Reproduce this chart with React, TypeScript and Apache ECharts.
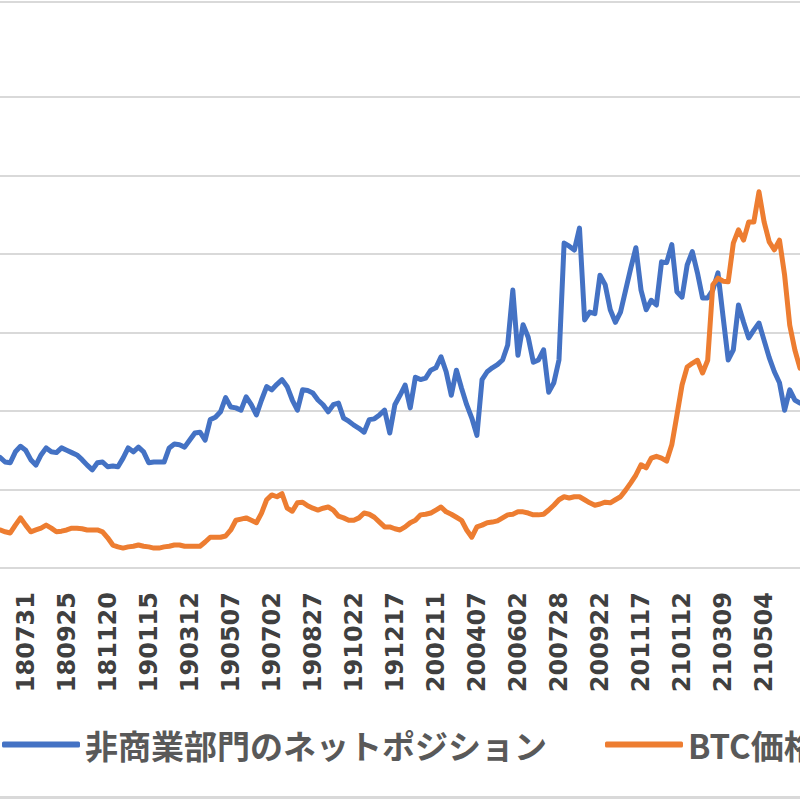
import React, { useEffect, useRef } from "react";
import * as echarts from "echarts";

// Weekly COT report dates (Tuesdays), starting 2018-06-26
const START_UTC = Date.UTC(2018, 5, 26);
const WEEK_COUNT = 157;
const weekDates: string[] = [];
for (let i = 0; i < WEEK_COUNT; i++) {
  const d = new Date(START_UTC + i * 7 * 86400000);
  const yy = String(d.getUTCFullYear() % 100).padStart(2, "0");
  const mm = String(d.getUTCMonth() + 1).padStart(2, "0");
  const dd = String(d.getUTCDate()).padStart(2, "0");
  weekDates.push(yy + mm + dd);
}

const legendNames = ["非商業部門のネットポジション", "BTC価格"];

// Non-commercial net position (left axis, labels cropped in the reference)
const netPosition = [
  1410, 1350, 1340, 1480, 1550, 1500, 1380, 1310, 1440, 1530,
  1480, 1470, 1530, 1500, 1470, 1440, 1380, 1310, 1250, 1340,
  1350, 1290, 1300, 1290, 1400, 1530, 1480, 1540, 1480, 1340,
  1350, 1350, 1350, 1530, 1580, 1570, 1540, 1630, 1720, 1730,
  1630, 1890, 1920, 1990, 2170, 2050, 2040, 2010, 2180, 2080,
  1950, 2140, 2310, 2270, 2340, 2400, 2310, 2140, 2010, 2270,
  2260, 2230, 2140, 2080, 1990, 2080, 2100, 1910, 1870, 1820,
  1780, 1730, 1890, 1900, 1950, 2010, 1720, 2080, 2200, 2330,
  2040, 2430, 2400, 2420, 2520, 2550, 2690, 2500, 2200, 2520,
  2290, 2080, 1910, 1690, 2400, 2500, 2550, 2590, 2650, 2840,
  3540, 2710, 3100, 2940, 2620, 2650, 2780, 2240, 2360, 2650,
  4140, 4100, 4050, 4330, 3160, 3260, 3240, 3730, 3610, 3290,
  3130, 3260, 3540, 3820, 4080, 3540, 3290, 3410, 3350, 3900,
  3890, 4120, 3520, 3450, 3860, 4030, 3760, 3440, 3440, 3540,
  3760, 3200, 2650, 2780, 3350, 3130, 2930, 3030, 3120, 2900,
  2680, 2500, 2360, 2010, 2270, 2140, 2100,
];

// BTC price in USD (right axis, labels cropped in the reference)
const btcPrice = [
  6300, 6000, 5800, 7100, 8300, 7100, 6000, 6300, 6600, 7100,
  6600, 6000, 6100, 6300, 6600, 6600, 6500, 6300, 6300, 6300,
  6000, 5000, 3800, 3500, 3300, 3500, 3600, 3800, 3600, 3500,
  3300, 3300, 3500, 3600, 3800, 3800, 3600, 3600, 3600, 3600,
  4300, 5100, 5100, 5100, 5300, 6300, 7900, 8100, 8300, 7900,
  7500, 9100, 11300, 12100, 11800, 12300, 9900, 9400, 10800, 10900,
  10300, 9900, 9600, 9900, 10100, 9600, 8600, 8300, 7900, 7900,
  8300, 9100, 8900, 8400, 7600, 6800, 6800, 6500, 6300, 6800,
  7500, 7900, 8800, 8900, 9100, 9600, 10100, 9300, 8900, 8400,
  7900, 6300, 5100, 6800, 7100, 7500, 7600, 7800, 8300, 8800,
  8900, 9300, 9300, 9100, 8800, 8800, 8900, 9600, 10400, 11300,
  11800, 11600, 11800, 11800, 11300, 10800, 10400, 10600, 10900, 10800,
  11300, 11800, 12900, 14100, 15400, 17100, 16600, 18200, 18500, 18200,
  17700, 20400, 25300, 30300, 33300, 33900, 34400, 32300, 34400, 46900,
  48000, 47500, 47400, 53800, 56000, 54300, 57300, 57300, 62300, 57300,
  54000, 52700, 54300, 48500, 40200, 36100, 33100,
];

const FIRST_LABEL_INDEX = 5;
const LABEL_STEP = 8;

export default function App() {
  const ref = useRef<HTMLDivElement>(null);

  useEffect(() => {
    if (!ref.current) return;
    const chart = echarts.init(ref.current, null, { renderer: "svg" });
    chart.setOption({
      animation: false,
      backgroundColor: "#ffffff",
      grid: { left: 0, right: 0, top: 97, bottom: 232, containLabel: false },
      legend: {
        data: legendNames,
        left: 2,
        top: 728,
        width: 2000,
        padding: 0,
        itemGap: 58,
        itemWidth: 78,
        itemHeight: 6,
        icon: "roundRect",
        textStyle: {
          fontFamily: "Noto Sans CJK JP",
          fontSize: 33,
          fontWeight: "bold",
          color: "#595959",
        },
      },
      graphic: [
        { type: "rect", shape: { x: 0, y: 1, width: 800, height: 2 }, style: { fill: "#d9d9d9" } },
        { type: "rect", shape: { x: 0, y: 796, width: 800, height: 3 }, style: { fill: "#d9d9d9" } },
      ],
      xAxis: {
        type: "category",
        data: weekDates,
        boundaryGap: false,
        axisLine: { show: false },
        axisTick: { show: false },
        axisLabel: {
          rotate: 90,
          margin: 24,
          interval: (index: number) =>
            index >= FIRST_LABEL_INDEX && (index - FIRST_LABEL_INDEX) % LABEL_STEP === 0,
          fontFamily: "DejaVu Sans",
          fontWeight: "bold",
          fontSize: 24,
          color: "#404040",
        },
      },
      yAxis: [
        {
          type: "value",
          min: 0,
          max: 6000,
          interval: 1000,
          axisLabel: { show: false },
          axisLine: { show: false },
          axisTick: { show: false },
          splitLine: { show: true, lineStyle: { color: "#d9d9d9", width: 2 } },
        },
        {
          type: "value",
          min: 0,
          max: 78000,
          interval: 13000,
          axisLabel: { show: false },
          axisLine: { show: false },
          axisTick: { show: false },
          splitLine: { show: false },
        },
      ],
      series: [
        {
          name: legendNames[0],
          type: "line",
          yAxisIndex: 0,
          data: netPosition,
          showSymbol: false,
          color: "#4472C4",
          lineStyle: { color: "#4472C4", width: 5, cap: "round", join: "round" },
        },
        {
          name: legendNames[1],
          type: "line",
          yAxisIndex: 1,
          data: btcPrice,
          showSymbol: false,
          color: "#ED7D31",
          lineStyle: { color: "#ED7D31", width: 5, cap: "round", join: "round" },
        },
      ],
    });
    return () => chart.dispose();
  }, []);

  return (
    <div
      ref={ref}
      style={{ position: "absolute", left: 0, top: 0, width: 800, height: 800, background: "#fff" }}
    />
  );
}
